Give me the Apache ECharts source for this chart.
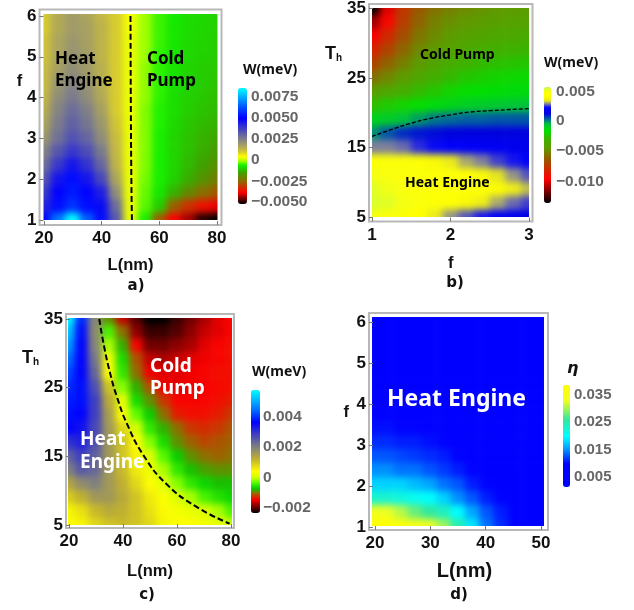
<!DOCTYPE html>
<html><head><meta charset="utf-8">
<style>html,body{margin:0;padding:0;background:#fff}#c{width:634px;height:610px}</style>
<script src="https://cdn.jsdelivr.net/npm/echarts@6/dist/echarts.min.js"></script>
</head><body><div id="c"></div>
<script>
// Values are in units of 1e-3 (meV for W, dimensionless for eta). Rows run top to bottom.
const lengthsA = [20,25,30,35,40,45,50,55,60,65,70,75,80];
const driveA = [6,5.67,5.33,5,4.67,4.33,4,3.67,3.33,3,2.67,2.33,2,1.67,1.33,1];
const workA = [
[1,1.6,1.9,1.7,1.3,1,.35,-.1,-.45,-.65,-.8,-.85,-.9],
[1,1.6,1.9,1.8,1.4,1,.35,-.1,-.45,-.7,-.8,-.9,-.95],
[1.1,1.7,2,1.8,1.4,1,.3,-.1,-.45,-.7,-.85,-.9,-1],
[1.1,1.7,2.1,1.9,1.4,1,.3,-.1,-.5,-.7,-.85,-.95,-1],
[1.2,1.8,2.2,1.9,1.5,1,.3,-.15,-.5,-.75,-.9,-1,-1.05],
[1.2,2,2.4,2.1,1.5,1,.3,-.15,-.5,-.75,-.9,-1,-1.1],
[1.3,2.2,2.6,2.2,1.6,1,.3,-.15,-.5,-.8,-.95,-1.05,-1.15],
[1.5,2.4,2.9,2.5,1.8,1,.3,-.2,-.55,-.8,-1,-1.1,-1.2],
[1.7,2.6,3.1,2.7,2,1.1,.3,-.2,-.55,-.85,-1.05,-1.2,-1.3],
[2,2.8,3.4,3,2.2,1.2,.3,-.2,-.6,-.9,-1.1,-1.3,-1.45],
[2.4,3.3,3.9,3.5,2.6,1.3,.3,-.2,-.6,-.9,-1.15,-1.35,-1.6],
[2.8,3.9,4.6,4,3,1.4,.3,-.2,-.6,-.9,-1.2,-1.5,-1.8],
[3.3,4.6,5.2,4.6,3.6,1.7,.3,-.25,-.6,-.95,-1.35,-1.75,-2.1],
[3.8,5,5.4,5,4.4,2.2,.3,-.3,-.7,-1.3,-1.9,-2.4,-2.7],
[4.3,5.2,5.8,5.2,4.8,2.9,.3,-.35,-1,-2.6,-3.2,-3.6,-3.9],
[5,6.8,8.6,6.5,5.2,3.3,.3,-.6,-2.7,-3.8,-4.3,-5,-5.2]];
const driveB = [1,1.2,1.4,1.6,1.8,2,2.2,2.4,2.6,2.8,3];
const tempB = [35,33,31,29,27,25,23,21,19,17,15,13,11,9,7,5];
const workB = [
[-13.5,-10,-7.5,-6.3,-5.6,-5.2,-4.9,-4.7,-4.5,-4.4,-4.3],
[-11,-9.2,-7.2,-6,-5.2,-4.8,-4.5,-4.3,-4.1,-4,-3.9],
[-9.6,-8,-6.6,-5.5,-4.9,-4.4,-4,-3.8,-3.6,-3.5,-3.4],
[-8.2,-7,-5.9,-5,-4.4,-3.9,-3.5,-3.3,-3.1,-3,-2.9],
[-7,-6,-5.2,-4.4,-3.8,-3.3,-3,-2.7,-2.5,-2.4,-2.3],
[-5.6,-5,-4.3,-3.6,-3.1,-2.7,-2.3,-2.1,-1.9,-1.8,-1.7],
[-4.2,-3.7,-3.2,-2.7,-2.3,-1.9,-1.6,-1.5,-1.4,-1.3,-1.3],
[-2.6,-2.2,-1.9,-1.6,-1.3,-1.1,-.9,-.8,-.7,-.6,-.5],
[-1,-.8,-.5,-.1,.2,.3,.4,.4,.5,.5,.5],
[0,.5,.9,1.1,1.2,1.3,1.3,1.3,1.3,1.3,1.3],
[2.9,2.9,2.8,2.5,2.3,2.2,2.1,2,1.9,1.8,1.7],
[4.6,4.6,4.6,4.5,4,3.5,3.1,2.9,2.6,2.4,2.1],
[5,4.9,4.7,4.6,4.5,4.5,4.3,4,3.4,3,2.7],
[5.3,5.1,4.9,4.7,4.6,4.5,4.5,4.4,4.1,3.6,3.2],
[5.4,5.3,5,4.8,4.5,4.3,4,3.6,3.1,2.8,2.6],
[5,4.8,4.5,4.2,3.5,3,2.7,2.4,2.1,1.8,1.5]];
const lengthsC = [20,25,30,35,40,45,50,55,60,65,70,75,80];
const tempC = [35,33,31,29,27,25,23,21,19,17,15,13,11,9,7,5];
const workC = [
[5.7,3.9,1.9,-.9,-1.6,-2,-2.3,-2.3,-2.1,-1.9,-1.7,-1.5,-1.4],
[5.2,3.7,1.8,-.4,-1,-1.8,-2.1,-2.1,-2,-1.8,-1.6,-1.5,-1.4],
[4.8,3.6,1.9,-.1,-.8,-1.4,-1.9,-1.9,-1.8,-1.7,-1.5,-1.4,-1.35],
[4.4,3.6,2.1,.3,-.6,-1.1,-1.6,-1.7,-1.6,-1.5,-1.45,-1.4,-1.35],
[4.1,3.6,2.3,.4,-.5,-1,-1.45,-1.5,-1.5,-1.45,-1.4,-1.35,-1.35],
[3.9,3.7,2.6,1,-.2,-.8,-1.1,-1.45,-1.5,-1.45,-1.42,-1.38,-1.35],
[3.8,3.7,2.8,1.3,.2,-.6,-.9,-1.2,-1.4,-1.4,-1.4,-1.35,-1.3],
[3.7,3.6,2.8,1.5,.4,-.3,-.7,-1,-1.3,-1.35,-1.35,-1.3,-1.2],
[3.6,3.4,2.7,1.6,.8,.05,-.5,-.8,-1,-1.2,-1.25,-1.2,-1.1],
[3,3.2,2.6,1.6,1,.4,-.2,-.6,-.9,-1.05,-1.15,-1.1,-1.05],
[2.4,2.8,2.4,1.6,1,.5,.1,-.35,-.7,-.9,-1,-1.05,-1],
[2,2.5,2.3,1.6,1.1,.6,.25,-.1,-.5,-.75,-.85,-.9,-.9],
[1.4,1.8,2,1.6,1.2,.8,.4,.15,-.2,-.5,-.65,-.75,-.75],
[.9,1.2,1.6,1.6,1.3,1,.6,.35,.1,-.1,-.4,-.55,-.65],
[.5,.7,1.1,1.3,1.2,1,.7,.45,.3,.2,.1,-.1,-.4],
[.4,.5,.8,1,1.1,1,.8,.5,.4,.4,.3,.2,0]];
const lengthsD = [20,22.5,25,27.5,30,32.5,35,37.5,40,42.5,45,47.5,50];
const driveD = [6,5.67,5.33,5,4.67,4.33,4,3.67,3.33,3,2.67,2.33,2,1.67,1.33,1];
const effD = [
[6,6,5.5,5.5,5,5,4.5,4.5,4,4,3.5,3.5,3],
[6.5,6,6,5.5,5.5,5,5,4.5,4.5,4,4,3.5,3.5],
[7,6.5,6.5,6,5.5,5.5,5,5,4.5,4.5,4,4,3.5],
[7.5,7,7,6.5,6,6,5.5,5,5,4.5,4.5,4,4],
[8,7.5,7.5,7,6.5,6,6,5.5,5,5,4.5,4.5,4],
[8.5,8.5,8,7.5,7,6.5,6,6,5.5,5,5,4.5,4.5],
[9,9,8.5,8,7.5,7,6.5,6,6,5.5,5,5,4.5],
[9.5,9.5,9.5,9,9,8,7.5,7,6.5,6,5.5,5,5],
[10.5,10.5,10,10,9.5,9,8,7.5,7,6.5,6,5.5,5],
[11.5,11.5,11,11,10.5,10,9.5,8,7.5,7,6.5,6,5.5],
[13,13,12.5,12,11.5,11,10,9,8,7.5,7,6.5,6],
[15,15,14,14,13,12,11,10,8.5,8,7.5,7,6.5],
[18,18,18,17,16,14,13,11,10,8.5,8,7.5,7],
[23,23,22,21,20,18,15,13,11,10,8.5,8,7.5],
[34,33,31,28,26,24,20,16,13,11,9.5,8,8],
[38.7,38.7,37,35,33,30,25,19,14,11.5,10,9,8]];
const contourA = [[50,6],[50.1,4],[50.3,2],[50.5,1]];
const contourB = [[1,16.6],[1.25,17.6],[1.5,18.5],[1.75,19.2],[2,19.7],[2.25,20.1],[2.5,20.3],[3,20.6]];
const contourC = [[31.2,35],[33,31],[35.3,27],[37.8,23.6],[41.4,19.8],[47.5,15.2],[56,11],[67,7.7],[79.5,5.2]];
const ticksAx = [20,40,60,80], ticksAy = [1,2,3,4,5,6];
const ticksBx = [1,2,3], ticksBy = [5,15,25,35];
const ticksCx = [20,40,60,80], ticksCy = [5,15,25,35];
const ticksDx = [20,30,40,50], ticksDy = [1,2,3,4,5,6];
const barLabelsA = ['0.0075','0.0050','0.0025','0','\u22120.0025','\u22120.0050'];
const barLabelsB = ['0.005','0','\u22120.005','\u22120.010'];
const barLabelsC = ['0.004','0.002','0','\u22120.002'];
const barLabelsD = ['0.035','0.025','0.015','0.005'];

const stopsA = [[-5.2,'#000000'],[-3.8,'#ff0000'],[-2.5,'#8f6a00'],[-1.5,'#40a000'],[-.6,'#10f000'],[-.1,'#a0ff00'],[.4,'#ffff00'],[1.2,'#c8bb40'],[2.5,'#808088'],[5,'#0000ff'],[6.3,'#0050ff'],[8.6,'#00ffff']];
const stopsB = [[-13.5,'#000000'],[-9.5,'#ff0000'],[-6.5,'#a05000'],[-4.5,'#609a00'],[-3,'#40b000'],[-1.5,'#00e000'],[-.4,'#00c040'],[.4,'#0060a0'],[1.3,'#0000e0'],[2.3,'#0000ff'],[2.9,'#8080a0'],[3.4,'#e8e820'],[4.2,'#ffff00'],[5,'#f8ff10'],[5.7,'#c0ff40']];
const stopsC = [[-2.3,'#000000'],[-1.4,'#ff0000'],[-1,'#907000'],[-.7,'#00d000'],[-.3,'#60ff00'],[0,'#d0ff00'],[.4,'#ffff00'],[1.2,'#c0b030'],[2,'#808080'],[3.6,'#0000ff'],[4.4,'#0070ff'],[5.7,'#00ffff']];
const stopsD = [[1.6,'#0000ff'],[10,'#0000ff'],[15,'#0090ff'],[20,'#00ffff'],[26,'#30e8a0'],[33,'#f0ff20'],[38.7,'#ffff00']];

function ramp(stops){
  const lo=stops[0][0],hi=stops[stops.length-1][0],out=[];
  const rgb=h=>[1,3,5].map(i=>parseInt(h.substr(i,2),16));
  for(let k=0;k<128;k++){
    const v=lo+(hi-lo)*k/127;let i=0;
    while(i<stops.length-2&&v>stops[i+1][0])i++;
    const t=(v-stops[i][0])/(stops[i+1][0]-stops[i][0]),a=rgb(stops[i][1]),b=rgb(stops[i+1][1]);
    out.push('rgb('+a.map((c,j)=>Math.round(c+(b[j]-c)*t)).join(',')+')');
  }
  return out;
}
const TICK='"Liberation Sans Narrow","Liberation Sans",sans-serif';
const BOLD='"Noto Sans",sans-serif';
const panels=[
 {xs:lengthsA,ys:driveA,m:workA,stops:stopsA,plot:[43.5,14,217.5,220],frame:[39.5,9.5,221.5,225],
  xmap:[44,217,20,80],ymap:[220,16,1,6],xt:ticksAx,yt:ticksAy,xn:'L(nm)',yn:'f',xg:32,yg:15,yp:72,xp:0,
  bar:[238,88,9,116],labs:barLabelsA,labX:251,labY:[97,118,139,160,182,202],fs:15.5,
  title:['W(meV)',243,70],letter:['a)',136,286],line:contourA},
 {xs:driveB,ys:tempB,m:workB,stops:stopsB,plot:[372,8,529,217],frame:[369,3.5,532.5,221.5],
  xmap:[372,529,1,3],ymap:[217,8,5,35],xt:ticksBx,yt:ticksBy,xn:'f',yn:'{b|T}{s|h}',xg:33,yg:15,yp:118,xp:0,
  bar:[544,87,7,116],labs:barLabelsB,labX:556,labY:[92,121,151,182],fs:15.5,
  title:['W(meV)',544,63],letter:['b)',455,283],line:contourB},
 {xs:lengthsC,ys:tempC,m:workC,stops:stopsC,plot:[68,318,232,525],frame:[66,314,234,528],
  xmap:[69,231,20,80],ymap:[525,319,5,35],xt:ticksCx,yt:ticksCy,xn:'L(nm)',yn:'{b|T}{s|h}',xg:35,yg:11,yp:126,xp:0,
  bar:[251,390,9,123],labs:barLabelsC,labX:263,labY:[417,447,478,508],fs:15.5,
  title:['W(meV)',252,372],letter:['c)',147,595],line:contourC},
 {xs:lengthsD,ys:driveD,m:effD,stops:stopsD,plot:[372,317,544,526],frame:[369,313,548,530],
  xmap:[375,541,20,50],ymap:[527,322,1,6],xt:ticksDx,yt:ticksDy,xn:'L(nm)',yn:'f',xg:31,yg:20,yp:18,xp:12,
  bar:[563,385,7,102],labs:barLabelsD,labX:574,labY:[395,422,450,477],fs:15,
  title:null,letter:['d)',459,595],line:null}
];
const notes=[
 ['Heat',55,59,17,'#000'],['Engine',55,81,17,'#000'],['Cold',147,59,17,'#000'],['Pump',147,81,17,'#000'],
 ['Cold Pump',420,55,14,'#000'],['Heat Engine',405,183,14,'#000'],
 ['Heat',80,440,19,'#fff'],['Engine',80,463,19,'#fff'],['Cold',150,367,19,'#fff'],['Pump',150,389,19,'#fff'],
 ['Heat Engine',387,399,23,'#fff']];

const grid=[],xAxis=[],yAxis=[],series=[],visualMap=[],graphic=[];
panels.forEach((p,i)=>{
  const [x0,y0,x1,y1]=p.plot,dx=(x1-x0)/(p.xs.length-1),dy=(y1-y0)/(p.ys.length-1);
  // hidden cell grid: data points sit on the plot edges, so cells overhang by half a step
  grid.push({left:x0-dx/2,top:y0-dy/2,width:x1-x0+dx,height:y1-y0+dy});
  xAxis.push({type:'category',gridIndex:i,show:false,data:p.xs.map(String)});
  yAxis.push({type:'category',gridIndex:i,show:false,inverse:true,data:p.ys.map(String)});
  const cells=[];p.m.forEach((r,ry)=>r.forEach((v,cx)=>cells.push([cx,ry,v])));
  series.push({type:'heatmap',xAxisIndex:i,yAxisIndex:i,data:cells,zlevel:-1,silent:true,progressive:0,animation:false});
  visualMap.push({type:'continuous',seriesIndex:i,dimension:2,min:p.stops[0][0],max:p.stops[p.stops.length-1][0],
    inRange:{color:ramp(p.stops)},left:p.bar[0],top:p.bar[1],itemWidth:p.bar[2],itemHeight:p.bar[3],
    padding:0,calculable:false,showLabel:false,text:null,hoverLink:false,realtime:false});
});
panels.forEach((p,i)=>{
  const [fx0,fy0,fx1,fy1]=p.frame,g=i+panels.length;
  const sx=(p.xmap[3]-p.xmap[2])/(p.xmap[1]-p.xmap[0]),sy=(p.ymap[3]-p.ymap[2])/(p.ymap[1]-p.ymap[0]);
  grid.push({left:fx0,top:fy0,width:fx1-fx0,height:fy1-fy0,show:true,borderColor:'#b8b8b8',borderWidth:2,backgroundColor:'transparent'});
  const common={gridIndex:g,type:'value',splitLine:{show:false},axisLine:{show:false},
    nameTextStyle:{fontFamily:TICK,fontWeight:'bold',fontSize:16.5,color:'#111',
      rich:{b:{fontFamily:TICK,fontWeight:'bold',fontSize:18,color:'#111'},s:{fontFamily:TICK,fontWeight:'bold',fontSize:10,color:'#111',verticalAlign:'bottom',padding:[8,0,0,0]}}}};
  xAxis.push({...common,position:'bottom',min:p.xmap[2]+(fx0-p.xmap[0])*sx,max:p.xmap[2]+(fx1-p.xmap[0])*sx,
    axisTick:{inside:true,length:4,customValues:p.xt,lineStyle:{color:'#777'}},
    axisLabel:{customValues:p.xt,margin:5,fontFamily:TICK,fontWeight:'bold',fontSize:17,color:'#111'},
    name:p.xn,nameLocation:'middle',nameGap:p.xg,
    nameTextStyle:{...common.nameTextStyle,fontSize:i==3?20:16.5,padding:[0,0,0,p.xp]}});
  yAxis.push({...common,position:'left',min:p.ymap[2]+(fy1-p.ymap[0])*sy,max:p.ymap[2]+(fy0-p.ymap[0])*sy,
    axisTick:{inside:true,length:4,customValues:p.yt,lineStyle:{color:'#777'}},
    axisLabel:{customValues:p.yt,margin:3,fontFamily:TICK,fontWeight:'bold',fontSize:17,color:'#111'},
    name:p.yn,nameLocation:'middle',nameGap:p.yg,nameRotate:0,
    nameTextStyle:{...common.nameTextStyle,padding:[0,0,p.yp,0]}});
  if(p.line) series.push({type:'line',xAxisIndex:g,yAxisIndex:g,data:p.line,smooth:true,symbol:'none',silent:true,animation:false,
    lineStyle:{color:'#000',width:i==1?1.3:2,type:i==1?[4,2]:[6,3]}});
  p.labs.forEach((t,k)=>graphic.push({type:'text',silent:true,x:p.labX,y:p.labY[k],style:{text:t,fill:'#666',font:'bold '+p.fs+'px "Liberation Sans",sans-serif',textVerticalAlign:'middle'}}));
  if(p.title) graphic.push({type:'text',silent:true,x:p.title[1],y:p.title[2],style:{text:p.title[0],fill:'#111',font:'bold 14px '+BOLD,textVerticalAlign:'middle'}});
  graphic.push({type:'text',silent:true,x:p.letter[1],y:p.letter[2],style:{text:p.letter[0],fill:'#111',font:'bold 15px "DejaVu Sans",sans-serif',textAlign:'center',textVerticalAlign:'middle'}});
});
notes.forEach(n=>graphic.push({type:'text',silent:true,x:n[1],y:n[2],style:{text:n[0],fill:n[4],font:'bold '+n[3]+'px '+BOLD,textVerticalAlign:'middle'}}));
graphic.push({type:'text',silent:true,x:567,y:369,style:{text:'\u03b7',fill:'#111',font:'italic bold 16px "DejaVu Sans",sans-serif',textVerticalAlign:'middle'}});

const chart=echarts.init(document.getElementById('c'),null,{renderer:'canvas'});
chart.setOption({animation:false,grid,xAxis,yAxis,series,visualMap,graphic:{elements:graphic}});
// Soften the lowest canvas layer (heat cells only) and clip it to the four plot rectangles.
const heatLayer=document.querySelector('#c canvas');
heatLayer.style.filter='blur(3.5px)';
heatLayer.style.clipPath="path('"+panels.map(p=>{const [a,b,c,d]=p.plot;return `M${a} ${b}L${c} ${b}L${c} ${d}L${a} ${d}Z`}).join('')+"')";
</script></body></html>
